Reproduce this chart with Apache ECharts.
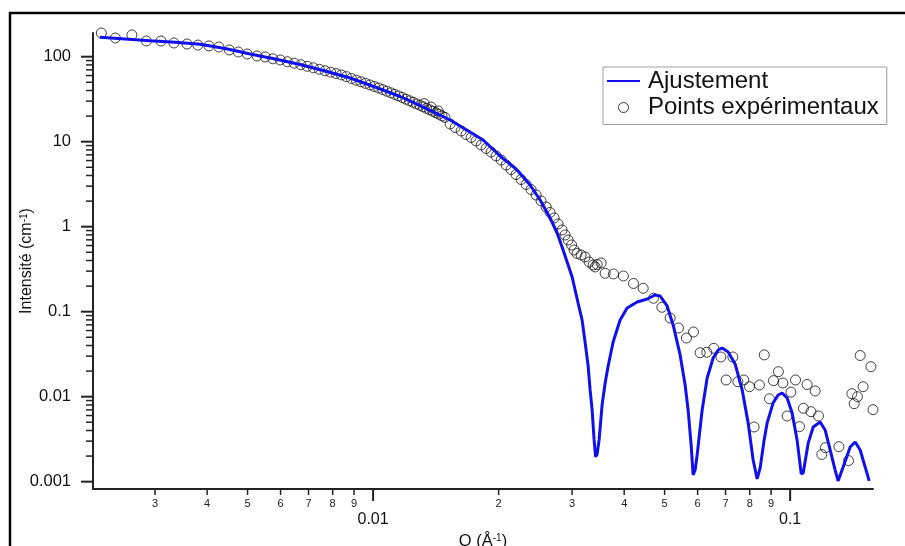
<!DOCTYPE html>
<html>
<head>
<meta charset="utf-8">
<script src="https://cdn.jsdelivr.net/npm/echarts@6/dist/echarts.min.js"></script>
<style>
html,body{margin:0;padding:0;background:#fff;}
#chart{width:905px;height:546px;}
</style>
</head>
<body>
<div id="chart"></div>
<script>
// ---------- data ----------
const qExp = [
  0.00223, 0.00241, 0.00264, 0.00286, 0.00310, 0.00333, 0.00358, 0.00380, 0.00404, 0.00427,
  0.00452, 0.00475, 0.00499, 0.00527, 0.00551,
  0.00575, 0.00599, 0.00623, 0.00647, 0.00671, 0.00695, 0.00719, 0.00743, 0.00767, 0.00791,
  0.00815, 0.00839, 0.00863, 0.00887, 0.00911, 0.00935, 0.00959, 0.00983, 0.01007, 0.01031,
  0.01055, 0.01079, 0.01103, 0.01127, 0.01151, 0.01175, 0.01199, 0.01223, 0.01247, 0.01271,
  0.01295, 0.01319, 0.01343, 0.01367, 0.01391, 0.01415, 0.01439, 0.01463, 0.01487,
  0.01325, 0.01377, 0.01432,
  0.01530, 0.01573, 0.01626, 0.01671, 0.01718, 0.01766, 0.01816, 0.01866, 0.01919, 0.01972,
  0.02028, 0.02084, 0.02142, 0.02202, 0.02264, 0.02327, 0.02392, 0.02459, 0.02528, 0.02599,
  0.02657, 0.02717, 0.02777, 0.02839, 0.02886, 0.02935, 0.02992, 0.03034, 0.03084, 0.03153,
  0.03223, 0.03296, 0.03370, 0.03407, 0.03445, 0.03522,
  0.03601, 0.03771, 0.03983, 0.04210, 0.04442, 0.04702, 0.04925, 0.05155, 0.05397, 0.05641,
  0.05864, 0.06084, 0.06312, 0.06561, 0.06820, 0.07023, 0.07287, 0.07492, 0.07743, 0.07986,
  0.08196, 0.08439, 0.08670, 0.08919, 0.09120, 0.09374, 0.09605, 0.09835, 0.1004, 0.1030,
  0.1053, 0.1076, 0.1098, 0.1122, 0.1148, 0.1169, 0.1191, 0.1215, 0.1309, 0.1380,
  0.1406, 0.1424, 0.1450, 0.1472, 0.1496, 0.1562, 0.1580
];
const iExp = [
  190, 166, 180, 153, 153, 145, 141, 137, 134, 130,
  120, 113.6, 107.6, 101.9, 99.2,
  94.5, 91.5, 87.3, 83.9, 80.5, 77.1, 74.0, 71.1, 68.3, 65.7,
  63.4, 61.1, 58.3, 55.4, 52.9, 50.7, 48.5, 46.5, 44.6, 42.8,
  41.0, 39.2, 37.6, 36.0, 34.5, 33.1, 31.6, 30.3, 29.1, 27.8,
  26.8, 25.7, 24.7, 23.7, 22.8, 21.9, 21.0, 20.1, 19.3,
  28.1, 25.6, 22.97,
  16.15, 14.69, 13.36, 12.15, 11.20, 10.19, 9.15, 8.32, 7.56, 6.79,
  6.09, 5.32, 4.71, 4.11, 3.59, 3.14, 2.74, 2.36, 2.01, 1.705,
  1.469, 1.266, 1.076, 0.915, 0.799, 0.697, 0.609, 0.532, 0.484, 0.465,
  0.440, 0.384, 0.354, 0.336, 0.359, 0.374,
  0.283, 0.278, 0.263, 0.2147, 0.1885, 0.1438, 0.1127, 0.0843, 0.0643, 0.0490,
  0.0577, 0.0329, 0.0333, 0.0371, 0.0293, 0.01572, 0.0293, 0.01501, 0.01572, 0.01311,
  0.0044, 0.01373, 0.0310, 0.00945, 0.01543, 0.01968, 0.01449, 0.00593, 0.0113, 0.01572,
  0.00444, 0.0073, 0.01391, 0.00666, 0.01167, 0.00593, 0.00209, 0.00251, 0.00258, 0.00177,
  0.01085, 0.00827, 0.0100, 0.0305, 0.01311, 0.02254, 0.00703
];
const qFit = [
  0.002214, 0.002543, 0.002919, 0.003351, 0.003847, 0.004416, 0.00507, 0.005821, 0.006682, 0.007672,
  0.008808, 0.01011, 0.01161, 0.01297, 0.01530, 0.01708, 0.01836, 0.02016, 0.02214, 0.02379,
  0.02515, 0.02657, 0.02762, 0.02839, 0.02919, 0.03001, 0.03101, 0.03170, 0.03223, 0.03278,
  0.03314, 0.03351, 0.03388, 0.03416, 0.03445, 0.03483, 0.03541, 0.03601, 0.03661, 0.03763,
  0.03911, 0.04065, 0.04297, 0.04541, 0.04746, 0.04879, 0.05070, 0.05241, 0.05447, 0.05600,
  0.05693, 0.05789, 0.05853, 0.05918, 0.05984, 0.06152, 0.06324, 0.06537, 0.06720, 0.06870,
  0.07101, 0.07381, 0.07672, 0.07930, 0.08152, 0.08334, 0.08474, 0.08663, 0.08808, 0.09104,
  0.09359, 0.09568, 0.09835, 0.1011, 0.1039, 0.1063, 0.1075, 0.1105, 0.1136, 0.1180,
  0.1213, 0.1247, 0.1282, 0.1303, 0.1340, 0.1393, 0.1432, 0.1472, 0.1513, 0.1547
];
const iFit = [
  169.1, 161.5, 154.3, 147.7, 139.9, 124.9, 107.6, 93.9, 80.9, 67.9,
  56.15, 44.0, 34.02, 26.5, 18.0, 13.0, 10.47, 6.79, 4.65, 3.095,
  2.061, 1.266, 0.843, 0.577, 0.384, 0.256, 0.1266, 0.0799, 0.0440, 0.02297,
  0.01202, 0.00699, 0.0031, 0.00196, 0.00212, 0.0031, 0.0080, 0.01449, 0.02297, 0.0440,
  0.0799, 0.1105, 0.1300, 0.1410, 0.1572, 0.1530, 0.1167, 0.0698, 0.0310, 0.01373,
  0.00698, 0.0027, 0.0012, 0.001373, 0.00206, 0.00698, 0.0166, 0.02853, 0.0354, 0.0374,
  0.0336, 0.02424, 0.01202, 0.00492, 0.0018, 0.001076, 0.00145, 0.0031, 0.00492, 0.00846,
  0.01047, 0.01105, 0.00966, 0.00643, 0.0031, 0.001235, 0.00127, 0.00286, 0.0044, 0.00504,
  0.00406, 0.00236, 0.00137, 0.00102, 0.00149, 0.00256, 0.00293, 0.00236, 0.00149, 0.00102
];
// axis ranges and tick values
const xRange = [0.00213, 0.158];
const yRange = [0.00082, 190];
const xMajorTicks = [0.01, 0.1];
const xMinorTicks = [0.003, 0.004, 0.005, 0.006, 0.007, 0.008, 0.009,
                     0.02, 0.03, 0.04, 0.05, 0.06, 0.07, 0.08, 0.09];
const xMinorLabels = ['3', '4', '5', '6', '7', '8', '9',
                      '2', '3', '4', '5', '6', '7', '8', '9'];
const yMajorTicks = [0.001, 0.01, 0.1, 1, 10, 100];
const yMinorTicks = [0.002, 0.003, 0.004, 0.005, 0.006, 0.007, 0.008, 0.009,
                     0.02, 0.03, 0.04, 0.05, 0.06, 0.07, 0.08, 0.09,
                     0.2, 0.3, 0.4, 0.5, 0.6, 0.7, 0.8, 0.9,
                     2, 3, 4, 5, 6, 7, 8, 9,
                     20, 30, 40, 50, 60, 70, 80, 90];
const seriesNames = ['Ajustement', 'Points expérimentaux'];

// ---------- chart ----------
const FONT = 'Liberation Sans, Arial, sans-serif';
const AXIS_COLOR = '#222';

function decadeLabel(v) {
  const l = Math.log10(v);
  const e = Math.round(l);
  if (Math.abs(l - e) > 1e-6) return '';
  if (e >= 0) return String(Math.pow(10, e));
  return '0.' + '0'.repeat(-e - 1) + '1';
}

function xTickSeries(values, len, width, labels) {
  return {
    type: 'custom', silent: true, clip: false, z: 5,
    data: values.map(v => [v, yRange[1]]),
    renderItem: function (params, api) {
      const cs = params.coordSys;
      const px = api.coord([api.value(0), api.value(1)])[0];
      const ay = cs.y + cs.height;
      const children = [{
        type: 'line',
        shape: { x1: px, y1: ay, x2: px, y2: ay + len },
        style: { stroke: AXIS_COLOR, lineWidth: width }
      }];
      if (labels) {
        children.push({
          type: 'text', x: px, y: ay + 15,
          style: { text: labels[params.dataIndex], fontSize: 11, fontFamily: FONT,
                   fill: '#222', align: 'center', verticalAlign: 'middle' }
        });
      }
      return { type: 'group', children: children };
    }
  };
}
function yTickSeries(values, len, width) {
  return {
    type: 'custom', silent: true, clip: false, z: 5,
    data: values.map(v => [xRange[0], v]),
    renderItem: function (params, api) {
      const cs = params.coordSys;
      const py = api.coord([api.value(0), api.value(1)])[1];
      return {
        type: 'line',
        shape: { x1: cs.x - len, y1: py, x2: cs.x, y2: py },
        style: { stroke: AXIS_COLOR, lineWidth: width }
      };
    }
  };
}

const chart = echarts.init(document.getElementById('chart'), null, { renderer: 'canvas' });
const option = {
  animation: false,
  backgroundColor: '#ffffff',
  textStyle: { fontFamily: FONT },
  graphic: [{
    type: 'rect', z: -10, silent: true,
    shape: { x: 10, y: 13, width: 920, height: 560 },
    style: { fill: null, stroke: '#000', lineWidth: 2.5 }
  }],
  grid: { left: 93, right: 32, top: 33, bottom: 57, containLabel: false, outerBoundsMode: 'none' },
  legend: {
    orient: 'vertical', left: 603, top: 67,
    padding: [2, 8, 5, 4], itemGap: 2.5,
    itemWidth: 33, itemHeight: 10,
    borderColor: '#a0a0a0', borderWidth: 1, backgroundColor: '#fff',
    selectedMode: false,
    textStyle: { fontSize: 24, color: '#111', fontFamily: FONT, padding: [0, 0, 0, 3] },
    data: [
      { name: seriesNames[0], icon: 'path://M0,0 L33,0 L33,2 L0,2 Z',
        itemStyle: { color: '#1010ee' } },
      { name: seriesNames[1], icon: 'circle',
        itemStyle: { color: 'rgba(0,0,0,0)', borderColor: '#111', borderWidth: 1 } }
    ]
  },
  xAxis: {
    type: 'log', logBase: 10, min: xRange[0], max: xRange[1],
    axisLine: { lineStyle: { color: AXIS_COLOR, width: 2 } },
    axisTick: { show: false },
    splitLine: { show: false },
    axisLabel: { formatter: decadeLabel, fontSize: 16, color: '#111', margin: 23,
                 showMinLabel: false, showMaxLabel: false },
    name: 'Q (Å{sup|-1})', nameLocation: 'middle', nameGap: 44, nameMoveOverlap: false,
    nameTextStyle: { fontSize: 16.5, color: '#111', fontFamily: FONT,
                     rich: { sup: { fontSize: 10, color: '#111', fontFamily: FONT, verticalAlign: 'top' } } }
  },
  yAxis: {
    type: 'log', logBase: 10, min: yRange[0], max: yRange[1],
    axisLine: { lineStyle: { color: AXIS_COLOR, width: 2 } },
    axisTick: { show: false },
    splitLine: { show: false },
    axisLabel: { formatter: decadeLabel, fontSize: 16.5, color: '#111', margin: 22,
                 showMinLabel: false, showMaxLabel: false },
    name: 'Intensité (cm{sup|-1})', nameLocation: 'middle', nameGap: 58, nameMoveOverlap: false,
    nameTextStyle: { fontSize: 16, color: '#111', fontFamily: FONT,
                     rich: { sup: { fontSize: 10, color: '#111', fontFamily: FONT, verticalAlign: 'top' } } }
  },
  series: [
    {
      type: 'scatter', name: seriesNames[1],
      data: qExp.map((q, i) => [q, iExp[i]]),
      symbol: 'circle', symbolSize: 10, clip: false, z: 2,
      itemStyle: { color: 'rgba(0,0,0,0)', borderColor: '#111', borderWidth: 1 }
    },
    {
      type: 'line', name: seriesNames[0],
      data: qFit.map((q, i) => [q, iFit[i]]),
      symbol: 'none', showSymbol: false, z: 3,
      lineStyle: { color: '#1010ee', width: 3 },
      itemStyle: { color: '#1010ee' }
    },
    xTickSeries(xMajorTicks, 12, 2, null),
    xTickSeries(xMinorTicks, 6, 1.5, xMinorLabels),
    yTickSeries(yMajorTicks, 12, 2),
    yTickSeries(yMinorTicks, 7, 1.5)
  ]
};
chart.setOption(option);
</script>
</body>
</html>
